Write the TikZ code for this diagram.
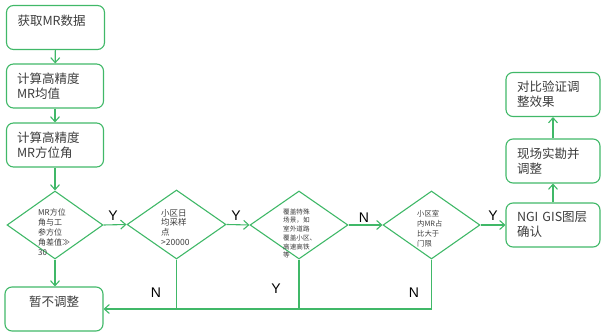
\documentclass[tikz,border=0pt]{standalone}
\usepackage{fontspec}
\setmainfont{Noto Sans CJK SC}
\newfontfamily\latinf{Liberation Sans}
\usetikzlibrary{shapes.geometric,arrows.meta}
\definecolor{flowgreen}{RGB}{64,184,104}
\definecolor{txtgray}{RGB}{60,60,60}
\tikzset{
  x=1pt,y=-1pt,
  flowline/.style={draw=flowgreen,line width=1.1pt},
  flowarrow/.style={flowline,-{Straight Barb[length=5pt,width=9pt,line width=1.1pt]}},
  procbox/.style={draw=flowgreen,line width=1.1pt,rounded corners=7pt,minimum height=44pt,
    inner sep=0pt,font=\fontsize{12.5}{15}\selectfont,text=txtgray},
  decbox/.style={draw=flowgreen,line width=1.1pt,shape=diamond,inner sep=0pt},
  dectext/.style={anchor=north west,inner sep=0pt,align=left,text=txtgray},
  yn/.style={font=\latinf\fontsize{14}{16}\selectfont,text=black,inner sep=0pt}
}
\begin{document}
\begin{tikzpicture}
\useasboundingbox (0,0) rectangle (603,336);
% process boxes
\node[procbox,minimum width=98pt,text width=76pt,align=left] (b1) at (55.5,27.5) {获取MR数据\\\mbox{}};
\node[procbox,minimum width=97pt,text width=76pt,align=left] (b2) at (55,86) {计算高精度\\MR均值};
\node[procbox,minimum width=97pt,text width=76pt,align=left] (b3) at (55,145) {计算高精度\\MR方位角};
\node[procbox,minimum width=98pt,text width=82pt,align=center] (b5) at (54,309) {暂不调整\\\mbox{}};
\node[procbox,minimum width=94pt,text width=72pt,align=left] (r1) at (553,225) {NGI GIS图层\\确认};
\node[procbox,minimum width=94pt,text width=72pt,align=left] (r2) at (553,161) {现场实勘并\\调整};
\node[procbox,minimum width=94pt,text width=72pt,align=left] (r3) at (553,94.5) {对比验证调\\整效果};
% decisions
\node[decbox,minimum width=96pt,minimum height=68pt] (d1) at (55,225) {};
\node[decbox,minimum width=99pt,minimum height=69pt] (d2) at (176.5,224.5) {};
\node[decbox,minimum width=98pt,minimum height=68pt] (d3) at (299,225) {};
\node[decbox,minimum width=97pt,minimum height=68pt] (d4) at (431.5,225) {};
\node[dectext,font=\fontsize{8}{10}\selectfont] (t1) at (38,209) {MR方位\\角与工\\参方位\\角差值≫\\30};
\node[dectext,font=\fontsize{8.5}{9.7}\selectfont] (t2) at (161,209) {小区日\\均采样\\点\\>20000};
\node[dectext,font=\fontsize{6.6}{8.7}\selectfont] (t3) at (283,208.5) {覆盖特殊\\场景，如\\室外道路\\覆盖小区、\\高速高铁\\等};
\node[dectext,font=\fontsize{7.3}{10}\selectfont] (t4) at (417,210) {小区室\\内MR占\\比大于\\门限};
% connectors
\draw[flowarrow] (b1) -- (b2);
\draw[flowarrow] (b2) -- (b3);
\draw[flowarrow] (b3) -- (d1.north);
\draw[flowarrow] (d1.south) -- (d1.south |- b5.north);
\draw[flowarrow] (d1.east) -- (d2.west);
\draw[flowarrow] (d2.east) -- (d3.west);
\draw[flowarrow] (d3.east) -- (d4.west);
\draw[flowarrow] (d4.east) -- (r1.west);
\draw[flowarrow] (r1) -- (r2);
\draw[flowarrow] (r2) -- (r3);
\draw[flowline] (d2.south) -- (d2.south |- b5.east);
\draw[flowline] (d3.south) -- (d3.south |- b5.east);
\draw[flowarrow] (d4.south) |- (b5.east);
% labels
\node[yn] (y1) at (113,216) {Y};
\node[yn] (y2) at (236,216) {Y};
\node[yn] (n3) at (364,218) {N};
\node[yn] (y4) at (493,216) {Y};
\node[yn] (n5) at (156,293) {N};
\node[yn] (y6) at (276,289) {Y};
\node[yn] (n7) at (414,293) {N};
\end{tikzpicture}
\end{document}
